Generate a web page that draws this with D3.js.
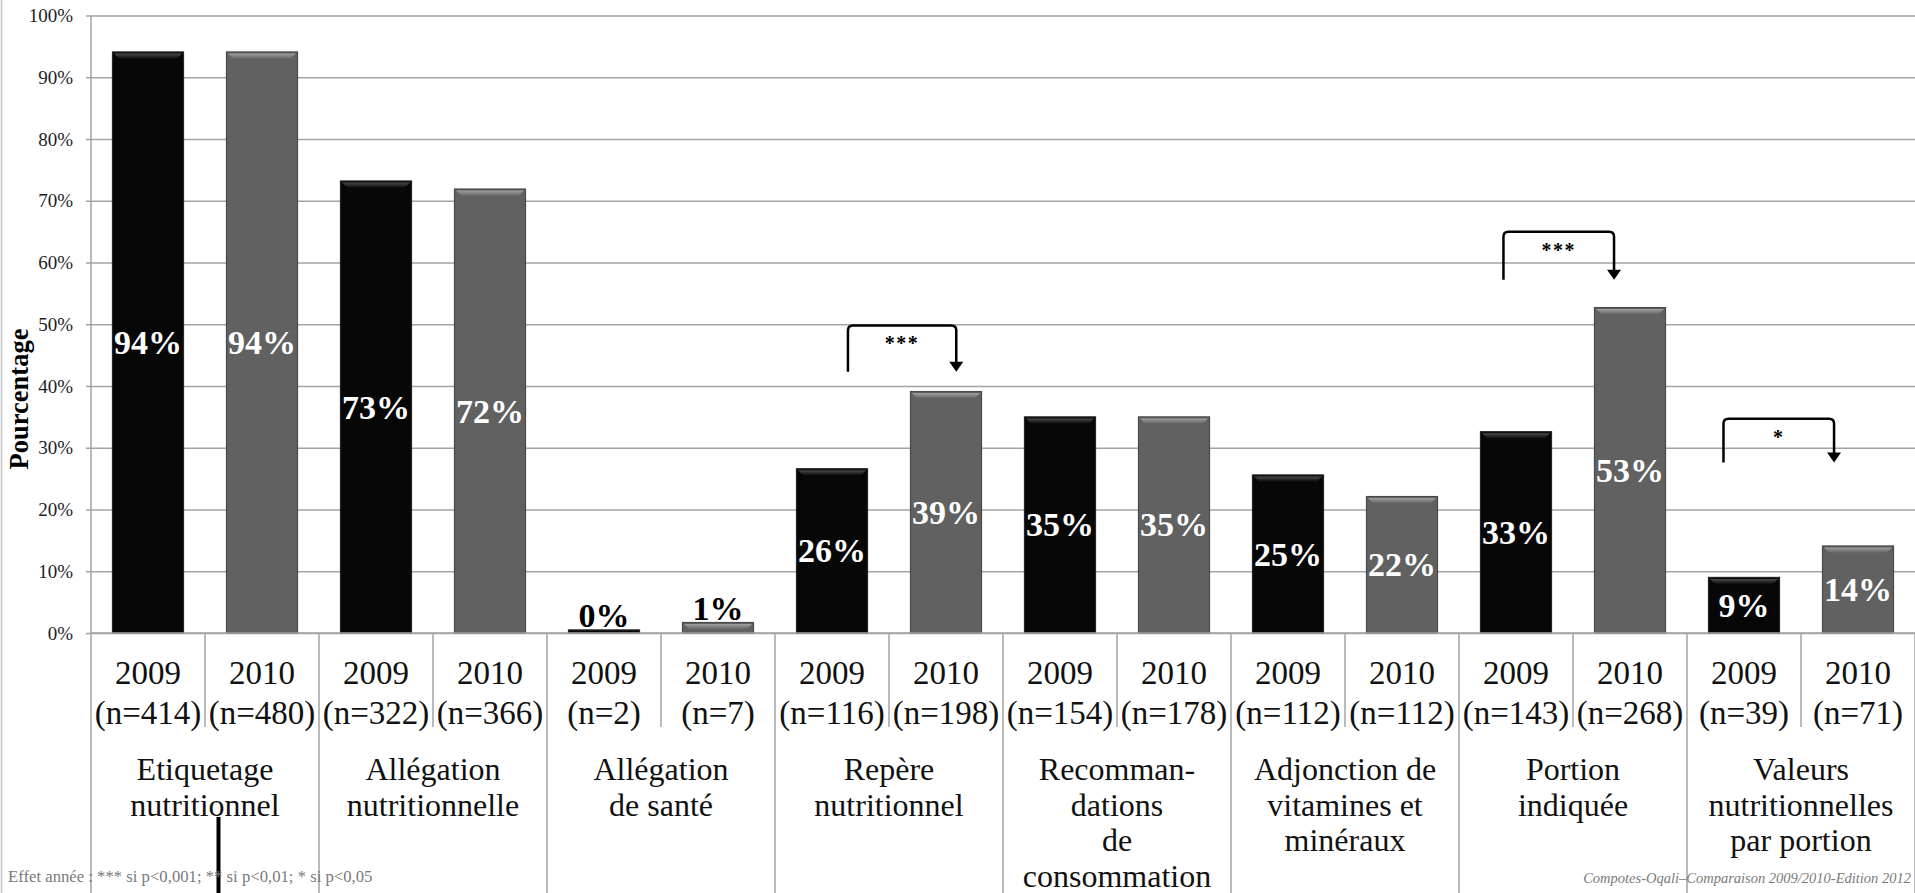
<!DOCTYPE html>
<html>
<head>
<meta charset="utf-8">
<script src="https://cdn.jsdelivr.net/npm/d3@7"></script>
<style>
  html, body { margin: 0; padding: 0; background: #fff; }
  svg { display: block; }
  text { font-family: "Liberation Serif", "DejaVu Serif", serif; }
</style>
</head>
<body>
<div id="chart"></div>
<script>
// ---------------------------------------------------------------- data
const years = ['2009', '2010'];
const categories = [
  ['Etiquetage', 'nutritionnel'],
  ['Allégation', 'nutritionnelle'],
  ['Allégation', 'de santé'],
  ['Repère', 'nutritionnel'],
  ['Recomman-', 'dations', 'de', 'consommation'],
  ['Adjonction de', 'vitamines et', 'minéraux'],
  ['Portion', 'indiquée'],
  ['Valeurs', 'nutritionnelles', 'par portion']
];
const counts2009 = [414, 322, 2, 116, 154, 112, 143, 39];
const counts2010 = [480, 366, 7, 198, 178, 112, 268, 71];
const values2009 = [94.1, 73.2, 0.5, 26.6, 35.0, 25.6, 32.6, 9.0];
const values2010 = [94.1, 71.9, 1.7, 39.1, 35.0, 22.1, 52.7, 14.1];
const labels2009 = ['94%', '73%', '0%', '26%', '35%', '25%', '33%', '9%'];
const labels2010 = ['94%', '72%', '1%', '39%', '35%', '22%', '53%', '14%'];
const yTicks = [0, 10, 20, 30, 40, 50, 60, 70, 80, 90, 100];

// year-effect tests: category index, stars, bracket top / foot in %
const sigCategory = [3, 6, 7];
const sigStars = ['***', '***', '*'];
const sigTop = [49.8, 65.0, 34.7];
const sigFoot = [42.3, 57.2, 27.6];
const sigFrom = [0.64, 0.39, 0.32];   // where the bracket leaves the 2009 slot
const sigTo = [0.59, 0.36, 0.29];     // where the arrow lands in the 2010 slot

const footLeft = 'Effet année : *** si p<0,001; ** si p<0,01; * si p<0,05';
const footRight = 'Compotes-Oqali–Comparaison 2009/2010-Edition  2012';

// ---------------------------------------------------------------- layout
const W = 1915, H = 893;
const margin = {top: 15.5, right: 0, bottom: 260, left: 91};
const plotW = W - margin.left - margin.right;
const plotH = H - margin.top - margin.bottom;

const grid = '#a3a3a3';
const color = {'2009': '#070707', '2010': '#616161'};
const edge = {'2009': '#262626', '2010': '#4a4a4a'};
const hiTop = {'2009': '#4c4c4c', '2010': '#a0a0a0'};

const bars = [];
categories.forEach((c, i) => {
  bars.push({cat: i, year: '2009', value: values2009[i], label: labels2009[i], n: counts2009[i]});
  bars.push({cat: i, year: '2010', value: values2010[i], label: labels2010[i], n: counts2010[i]});
});
const key = d => d.cat + '-' + d.year;

const svg = d3.select('#chart').append('svg').attr('width', W).attr('height', H);
const defs = svg.append('defs');
years.forEach(yr => {
  const g = defs.append('linearGradient').attr('id', 'hi' + yr)
    .attr('x1', 0).attr('y1', 0).attr('x2', 0).attr('y2', 1);
  g.append('stop').attr('offset', '0%').attr('stop-color', hiTop[yr]);
  g.append('stop').attr('offset', '100%').attr('stop-color', color[yr]);
});

const g = svg.append('g').attr('transform', `translate(${margin.left},${margin.top})`);

const y = d3.scaleLinear().domain([0, 100]).range([plotH, 0]);
const x = d3.scaleBand().domain(bars.map(key)).range([0, plotW]).paddingInner(0).paddingOuter(0);
const barW = x.bandwidth() * 0.623;
const barX = d => x(key(d)) + (x.bandwidth() - barW) / 2;
const mid = d => x(key(d)) + x.bandwidth() / 2;

// outer frame line on the far left
svg.append('line').attr('x1', 1.5).attr('x2', 1.5).attr('y1', 0).attr('y2', H)
  .attr('stroke', '#c4c4c4').attr('stroke-width', 1.5);

// y axis with grid
const yAxis = g.append('g').attr('class', 'y-axis')
  .call(d3.axisLeft(y).tickValues(yTicks).tickSize(5).tickPadding(13).tickFormat(d => d + '%'));
yAxis.select('.domain').remove();
yAxis.selectAll('.tick line').attr('x1', plotW).attr('stroke', grid).attr('stroke-width', 1.5);
yAxis.selectAll('.tick text').attr('font-size', 19).attr('fill', '#1e1e1e');

// vertical axis line running down through the category area
g.append('line').attr('x1', 0).attr('x2', 0).attr('y1', 0).attr('y2', H - margin.top)
  .attr('stroke', grid).attr('stroke-width', 1.5);

// slot separators below the baseline
const seps = d3.range(1, bars.length + 1);
g.selectAll('.sep').data(seps).enter().append('line')
  .attr('class', 'sep')
  .attr('x1', i => i * x.step()).attr('x2', i => i * x.step())
  .attr('y1', plotH)
  .attr('y2', i => i % 2 ? plotH + 94 : H - margin.top)
  .attr('stroke', grid).attr('stroke-width', 1.5);

// bars
const bar = g.selectAll('.bar').data(bars).enter().append('g').attr('class', 'bar');
bar.append('rect')
  .attr('x', barX).attr('width', barW)
  .attr('y', d => y(d.value)).attr('height', d => y(0) - y(d.value))
  .attr('fill', d => color[d.year])
  .attr('stroke', d => edge[d.year]).attr('stroke-width', 1.2);
// bevel highlight along the top edge
bar.filter(d => y(0) - y(d.value) > 10).append('path')
  .attr('d', d => {
    const x0 = barX(d), x1 = x0 + barW, t = y(d.value);
    return `M${x0 + 1.5},${t + 1.5}H${x1 - 1.5}L${x1 - 7},${t + 7}H${x0 + 7}Z`;
  })
  .attr('fill', d => `url(#hi${d.year})`);

// value labels
const inside = d => d.value >= 5;
g.selectAll('.val').data(bars).enter().append('text')
  .attr('class', 'val')
  .attr('x', mid)
  .attr('y', d => inside(d) ? (y(d.value) + y(0)) / 2 : y(d.value) - 3)
  .attr('dy', d => inside(d) ? '0.34em' : 0)
  .attr('text-anchor', 'middle')
  .attr('font-size', 34).attr('font-weight', 'bold')
  .attr('fill', d => inside(d) ? '#fff' : '#000')
  .text(d => d.label);

// baseline
g.append('line').attr('x1', 0).attr('x2', plotW).attr('y1', plotH).attr('y2', plotH)
  .attr('stroke', grid).attr('stroke-width', 1.5);

// year + n labels
const yl = g.selectAll('.yl').data(bars).enter().append('text')
  .attr('class', 'yl').attr('text-anchor', 'middle').attr('font-size', 33).attr('fill', '#111');
yl.append('tspan').attr('x', mid).attr('y', plotH + 51).text(d => d.year);
yl.append('tspan').attr('x', mid).attr('y', plotH + 91).text(d => `(n=${d.n})`);

// category labels
const catX = i => x(i + '-2009') + x.step();
const cl = g.selectAll('.cl').data(categories).enter().append('text')
  .attr('class', 'cl').attr('text-anchor', 'middle').attr('font-size', 32).attr('fill', '#111');
cl.selectAll('tspan').data((d, i) => d.map(s => ({s, i}))).enter().append('tspan')
  .attr('x', d => catX(d.i))
  .attr('y', (d, j) => plotH + 147 + j * 35.5)
  .text(d => d.s);

// significance brackets
sigCategory.forEach((c, k) => {
  const xa = x(c + '-2009') + x.bandwidth() * sigFrom[k];
  const xb = x(c + '-2010') + x.bandwidth() * sigTo[k];
  const yt = y(sigTop[k]), yb = y(sigFoot[k]), r = 5;
  g.append('path')
    .attr('d', `M${xa},${yb}V${yt + r}Q${xa},${yt} ${xa + r},${yt}H${xb - r}Q${xb},${yt} ${xb},${yt + r}V${yb - 9}`)
    .attr('fill', 'none').attr('stroke', '#000').attr('stroke-width', 2.5);
  g.append('path')
    .attr('d', `M${xb - 7},${yb - 10}H${xb + 7}L${xb},${yb}Z`)
    .attr('fill', '#000');
  g.append('text')
    .attr('x', (xa + xb) / 2).attr('y', yt + 25)
    .attr('text-anchor', 'middle').attr('font-size', 20).attr('font-weight', 'bold')
    .attr('letter-spacing', 1.5)
    .text(sigStars[k]);
});

// stray marker line in the lower left
svg.append('line').attr('x1', 218.5).attr('x2', 218.5).attr('y1', 817).attr('y2', H)
  .attr('stroke', '#000').attr('stroke-width', 4);

// footnotes
svg.append('text').attr('x', 8).attr('y', 882)
  .attr('font-size', 16.7).attr('fill', '#7a7a7a').text(footLeft);
svg.append('text').attr('x', 1911).attr('y', 883).attr('text-anchor', 'end')
  .attr('font-size', 14.5).attr('font-style', 'italic').attr('fill', '#7a7a7a').text(footRight);

// axis title
svg.append('text')
  .attr('transform', 'translate(19,399) rotate(-90)')
  .attr('text-anchor', 'middle').attr('dy', '0.35em')
  .attr('font-size', 26.5).attr('font-weight', 'bold')
  .text('Pourcentage');
</script>
</body>
</html>
